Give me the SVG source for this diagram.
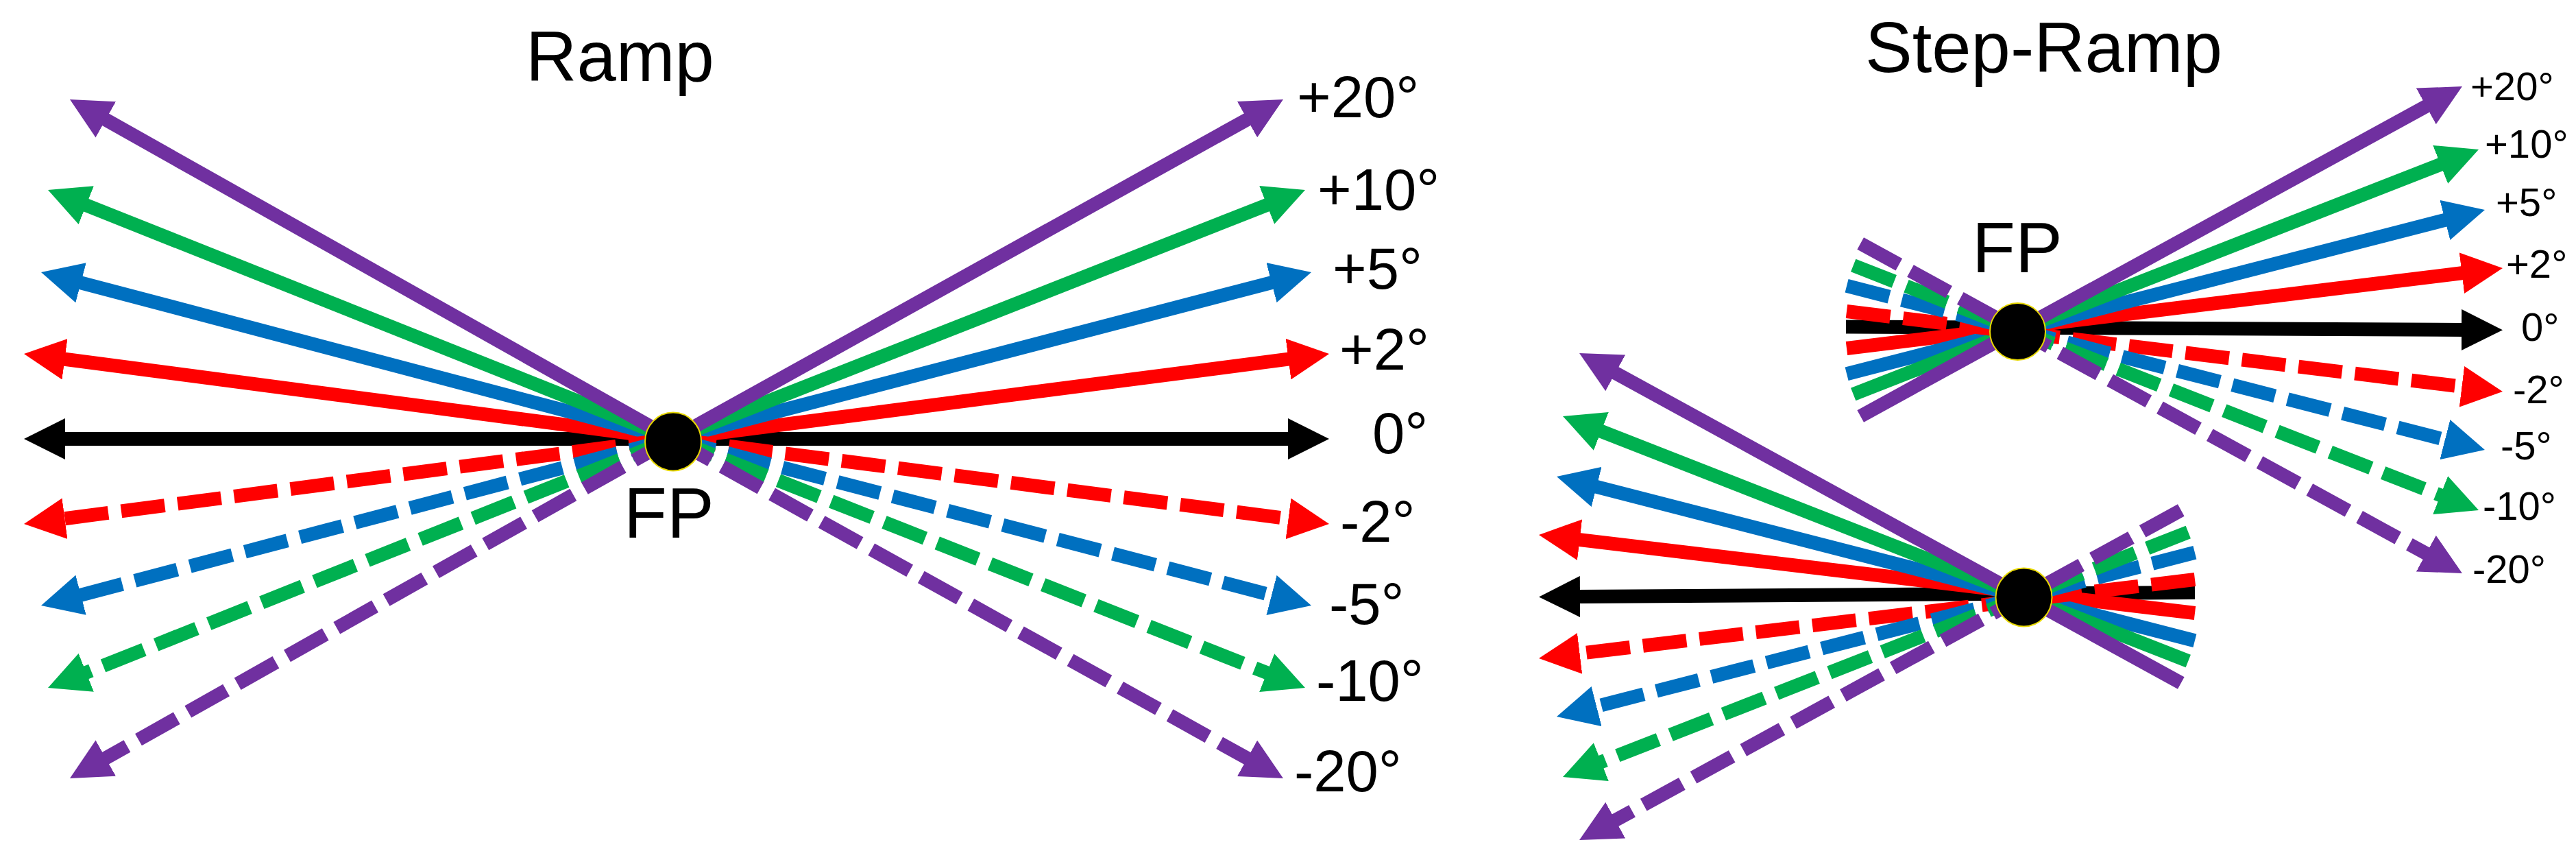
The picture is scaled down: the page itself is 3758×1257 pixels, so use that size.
<svg xmlns="http://www.w3.org/2000/svg" width="3758" height="1257" viewBox="0 0 3758 1257">
<style>
text{font-family:"Liberation Sans",Arial,sans-serif;fill:#000}
.title{font-size:103px}
.fp{font-size:103px}
.lab{font-size:85px}
.labs{font-size:58px}
.ln{stroke-width:20;fill:none;stroke-linecap:butt}
.d{stroke-dasharray:64 19}
.k{stroke:#000}.r{stroke:#FF0000}.b{stroke:#0070C0}.g{stroke:#00B050}.p{stroke:#7030A0}
.k{marker-end:url(#ak)}.r{marker-end:url(#ar)}.b{marker-end:url(#ab)}.g{marker-end:url(#ag)}.p{marker-end:url(#ap)}
.dot{fill:#000;stroke:#E8D800;stroke-width:2}
</style>
<defs>
<marker id="ak" markerUnits="userSpaceOnUse" viewBox="0 0 60 60" markerWidth="60" markerHeight="60" refX="2" refY="30" orient="auto"><path d="M0,0 L60,30 L0,60 Z" fill="#000"/></marker>
<marker id="ar" markerUnits="userSpaceOnUse" viewBox="0 0 60 60" markerWidth="60" markerHeight="60" refX="2" refY="30" orient="auto"><path d="M0,0 L60,30 L0,60 Z" fill="#FF0000"/></marker>
<marker id="ab" markerUnits="userSpaceOnUse" viewBox="0 0 60 60" markerWidth="60" markerHeight="60" refX="2" refY="30" orient="auto"><path d="M0,0 L60,30 L0,60 Z" fill="#0070C0"/></marker>
<marker id="ag" markerUnits="userSpaceOnUse" viewBox="0 0 60 60" markerWidth="60" markerHeight="60" refX="2" refY="30" orient="auto"><path d="M0,0 L60,30 L0,60 Z" fill="#00B050"/></marker>
<marker id="ap" markerUnits="userSpaceOnUse" viewBox="0 0 60 60" markerWidth="60" markerHeight="60" refX="2" refY="30" orient="auto"><path d="M0,0 L60,30 L0,60 Z" fill="#7030A0"/></marker>
</defs>
<rect width="3758" height="1257" fill="#fff"/>

<g id="titles">
<text class="title" x="767" y="118">Ramp</text>
<text class="title" x="2721" y="105">Step-Ramp</text>
</g>

<g id="connectors">
<g id="ramp-lines">
<line class="ln k" x1="981" y1="640" x2="1881" y2="640"/>
<line class="ln k" x1="981" y1="640" x2="93" y2="640"/>
<line class="ln r" x1="981" y1="640" x2="1881.5" y2="523.4"/>
<line class="ln r" x1="981" y1="640" x2="92.5" y2="523.5"/>
<line class="ln b" x1="981" y1="640" x2="1856.9" y2="411.6"/>
<line class="ln b" x1="981" y1="640" x2="116.1" y2="411.8"/>
<line class="ln g" x1="981" y1="640" x2="1850" y2="298.2"/>
<line class="ln g" x1="981" y1="640" x2="123.9" y2="298.5"/>
<line class="ln p" x1="981" y1="640" x2="1821.3" y2="173.2"/>
<line class="ln p" x1="981" y1="640" x2="152.5" y2="173.5"/>
<line class="ln d r" x1="981" y1="640" x2="1881.5" y2="756.6"/>
<line class="ln d r" x1="981" y1="640" x2="92.5" y2="756.5"/>
<line class="ln d b" x1="981" y1="640" x2="1856.9" y2="868.4"/>
<line class="ln d b" x1="981" y1="640" x2="116.1" y2="868.2"/>
<line class="ln d g" x1="981" y1="640" x2="1850" y2="981.8"/>
<line class="ln d g" x1="981" y1="640" x2="123.9" y2="981.5"/>
<line class="ln d p" x1="981" y1="640" x2="1821.3" y2="1106.8"/>
<line class="ln d p" x1="981" y1="640" x2="152.5" y2="1106.5"/>
</g>
<g id="step-upper-lines">
<line class="ln k" x1="2693" y1="476.5" x2="3593" y2="481"/>
<line class="ln r" x1="2694" y1="508" x2="3593.4" y2="398"/>
<line class="ln b" x1="2694.1" y1="545.2" x2="3568.8" y2="320.4"/>
<line class="ln g" x1="2703.7" y1="575" x2="3562" y2="239.1"/>
<line class="ln p" x1="2714.2" y1="606.9" x2="3541.1" y2="153.9"/>
<line class="ln d r" x1="2694" y1="454" x2="3593.4" y2="564"/>
<line class="ln d b" x1="2694.1" y1="416.8" x2="3568.8" y2="641.6"/>
<line class="ln d g" x1="2703.7" y1="387" x2="3562" y2="722.9"/>
<line class="ln d p" x1="2714.2" y1="355.1" x2="3541.1" y2="808.1"/>
</g>
<g id="step-lower-lines">
<line class="ln k" x1="3202" y1="864" x2="2303" y2="870"/>
<line class="ln r" x1="3202" y1="894" x2="2302.6" y2="786.9"/>
<line class="ln b" x1="3201.9" y1="934.2" x2="2327.2" y2="709.4"/>
<line class="ln g" x1="3192.3" y1="964" x2="2334" y2="628.1"/>
<line class="ln p" x1="3181.8" y1="995.9" x2="2354.9" y2="542.9"/>
<line class="ln d r" x1="3202" y1="845" x2="2302.6" y2="953.1"/>
<line class="ln d b" x1="3201.9" y1="805.8" x2="2327.2" y2="1030.6"/>
<line class="ln d g" x1="3192.3" y1="776" x2="2334" y2="1111.9"/>
<line class="ln d p" x1="3181.8" y1="744.1" x2="2354.9" y2="1197.1"/>
</g>
</g>

<g id="node-fp-ramp">
<ellipse class="dot" cx="982" cy="644" rx="41" ry="42.5"/>
<text class="fp" x="910" y="784">FP</text>
</g>
<g id="node-fp-step-upper">
<ellipse class="dot" cx="2943.5" cy="483.5" rx="40.5" ry="41.5"/>
<text class="fp" x="2877" y="397">FP</text>
</g>
<g id="node-fp-step-lower">
<ellipse class="dot" cx="2952.5" cy="871" rx="41" ry="42.5"/>
</g>

<g id="ramp-labels">
<text class="lab" x="1892" y="171">+20°</text>
<text class="lab" x="1922" y="306">+10°</text>
<text class="lab" x="1944" y="421">+5°</text>
<text class="lab" x="1954" y="539">+2°</text>
<text class="lab" x="2002" y="661">0°</text>
<text class="lab" x="1955" y="790">-2°</text>
<text class="lab" x="1939" y="910">-5°</text>
<text class="lab" x="1920" y="1022">-10°</text>
<text class="lab" x="1888" y="1154">-20°</text>
</g>
<g id="step-labels">
<text class="labs" x="3604" y="146">+20°</text>
<text class="labs" x="3625" y="230">+10°</text>
<text class="labs" x="3641" y="315">+5°</text>
<text class="labs" x="3656" y="405">+2°</text>
<text class="labs" x="3678" y="497">0°</text>
<text class="labs" x="3666" y="588">-2°</text>
<text class="labs" x="3648" y="670">-5°</text>
<text class="labs" x="3622" y="758">-10°</text>
<text class="labs" x="3607" y="850">-20°</text>
</g>
</svg>
